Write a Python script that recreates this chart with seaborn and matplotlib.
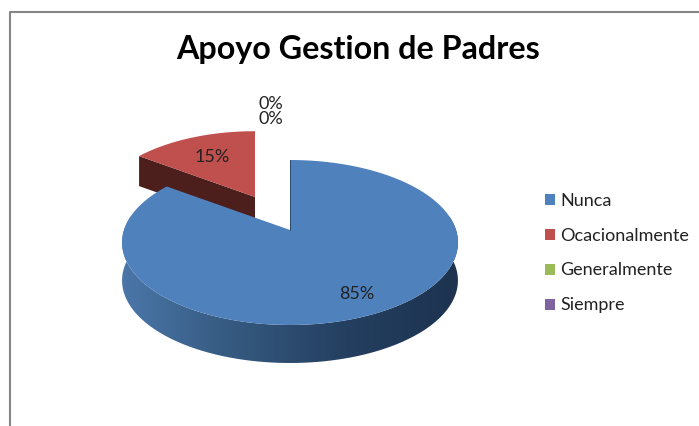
"""Apoyo Gestion de Padres: exploded pseudo-3D pie chart."""

import numpy as np
import matplotlib.pyplot as plt
import seaborn as sns
from matplotlib.colors import LinearSegmentedColormap
from matplotlib.patches import Patch, Polygon

categories = ["Nunca", "Ocacionalmente", "Generalmente", "Siempre"]
shares = [85, 15, 0, 0]
slice_colors = ["#4f81bd", "#c0504d", "#9bbb59", "#8064a2"]

# pie geometry in image pixels
CENTER = np.array([290.0, 230.0])
RED_CENTER = np.array([255.0, 197.0])
RADIUS_X = 166.0
RADIUS_Y = 80.6
PERSPECTIVE = 0.1515
DEPTH = 38.0
RED_SCALE = 0.94
RED_DEPTH = 30.0

TEXT_COLOR = "#222222"


def project(theta, center, scale=1.0, radial=1.0):
    """Map clockwise angles from 12 o'clock onto the tilted pie surface."""
    u, v = np.sin(theta), np.cos(theta)
    w = 1 + PERSPECTIVE * v
    x = center[0] + scale * radial * RADIUS_X * u / w
    y = center[1] - scale * radial * RADIUS_Y * v / w
    return np.column_stack([x, y])


def add_side_gradient(ax, start, end):
    """Outer wall of the big slice, shaded from left to right."""
    cmap = LinearSegmentedColormap.from_list(
        "wall", ["#4a76a8", "#35597f", "#243f60", "#1d3350"]
    )
    edge = project(np.linspace(start, end, 200), CENTER)
    wall = np.vstack([edge, (edge + [0, DEPTH])[::-1]])
    clip = Polygon(wall, closed=True, transform=ax.transData, facecolor="none", edgecolor="none")
    ax.add_patch(clip)
    extent = (edge[:, 0].min(), edge[:, 0].max(), wall[:, 1].max(), wall[:, 1].min())
    img = ax.imshow(
        np.linspace(0, 1, 256).reshape(1, -1), cmap=cmap, extent=extent,
        aspect="auto", zorder=0.5,
    )
    img.set_clip_path(clip)
    ax.set_xlim(0, 699)
    ax.set_ylim(426, 0)


sns.set_theme(style="white")
plt.rcParams["font.family"] = ["Lato", "DejaVu Sans"]

fig, ax = plt.subplots(figsize=(6.99, 4.26), dpi=100)
ax.set_position([0, 0, 1, 1])
ax.set_xlim(0, 699)
ax.set_ylim(426, 0)
ax.axis("off")

# chart frame, cut by the screenshot on the right and at the bottom
ax.plot([9.5, 9.5, 699], [426, 12, 12], color="#868686", lw=1.5)

bounds = np.cumsum([0] + shares) / sum(shares) * 2 * np.pi
palette = sns.color_palette(slice_colors)

# red slice sits behind the blue one
red_theta = np.linspace(bounds[1], bounds[2], 50)
red_arc = project(red_theta, RED_CENTER, RED_SCALE)
left_corner = red_arc[0]
ax.add_patch(Polygon(
    [RED_CENTER, left_corner, left_corner + [0, RED_DEPTH], RED_CENTER + [0, RED_DEPTH]],
    closed=True, facecolor="#4d1f1c", edgecolor="none",
))
ax.add_patch(Polygon(
    np.vstack([RED_CENTER, red_arc]), closed=True, facecolor=palette[1], edgecolor="none",
))

# blue slice: wall first, then the top surface
add_side_gradient(ax, np.radians(80), np.radians(280))
blue_theta = np.linspace(bounds[0], bounds[1], 240)
blue_arc = project(blue_theta, CENTER)
ax.add_patch(Polygon(
    np.vstack([CENTER, blue_arc]), closed=True, facecolor=palette[0], edgecolor="none",
))
ax.plot([CENTER[0], CENTER[0]], [CENTER[1], blue_arc[0, 1]], color="#2b4a70", lw=0.7)

# percentage labels
mid_blue = project(np.array([(bounds[0] + bounds[1]) / 2]), CENTER, radial=0.77)[0]
mid_red = project(np.array([(bounds[1] + bounds[2]) / 2]), RED_CENTER, RED_SCALE, radial=0.68)[0]
label_style = dict(ha="center", va="center", fontsize=13, color=TEXT_COLOR)
ax.text(*mid_blue, f"{shares[0]}%", **label_style)
ax.text(*mid_red, f"{shares[1]}%", **label_style)
ax.text(271, 104, f"{shares[3]}%", **label_style)
ax.text(271, 119, f"{shares[2]}%", **label_style)

ax.text(358, 50, "Apoyo Gestion de Padres", ha="center", va="center",
        fontsize=23.2, fontweight="bold", color="black")

handles = [Patch(facecolor=c, edgecolor="none", label=n) for c, n in zip(palette, categories)]
ax.legend(
    handles=handles, loc="upper left", bbox_to_anchor=(0.78, 0.548), frameon=False,
    fontsize=13, labelcolor=TEXT_COLOR, handlelength=0.56, handleheight=0.56,
    handletextpad=0.28, labelspacing=1.05, borderpad=0, borderaxespad=0,
)

fig.savefig("out.png", dpi=100)
plt.close(fig)
